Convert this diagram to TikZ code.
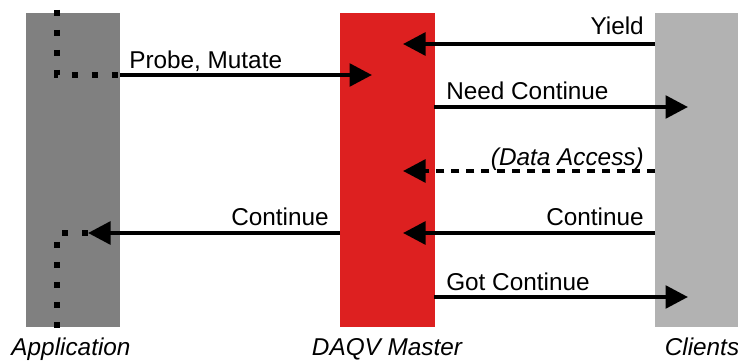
\documentclass[tikz,border=0pt]{standalone}
\usepackage{fontspec}
\setmainfont{Liberation Sans}
\usetikzlibrary{arrows.meta,positioning}
\definecolor{appgray}{RGB}{128,128,128}
\definecolor{daqvred}{RGB}{221,32,32}
\definecolor{clientgray}{RGB}{178,178,178}

\begin{document}
\begin{tikzpicture}[x=0.025cm, y=-0.025cm,
  lane/.style={draw=none, inner sep=0, anchor=north west, minimum height=314*0.025cm},
  msg/.style={line width=3pt, -{Triangle[length=16pt,width=16pt]}},
  dashmsg/.style={msg, dash pattern=on 5.7pt off 5pt},
  life/.style={line width=4pt, dash pattern=on 4.6pt off 9.6pt},
  lbl/.style={font=\fontsize{17.3}{20}\selectfont, inner sep=0},
  lanename/.style={lbl, font=\fontsize{17.3}{20}\selectfont\itshape, anchor=base}]
\useasboundingbox (0,0) rectangle (738,361);

% Lanes
\node[lane, fill=appgray, minimum width=94*0.025cm] (app) at (26,13) {};
\node[lane, fill=daqvred, minimum width=95*0.025cm] (daqv) at (340,13) {};
\node[lane, fill=clientgray, minimum width=83*0.025cm] (clients) at (655,13) {};

% Lane names
\node[lanename] (appname) at (71,355) {Application};
\node[lanename] (daqvname) at (387,355) {DAQV Master};
\node[lanename] (clientsname) at (702,355) {Clients};

% Application thread
\coordinate (appTop) at (57,10);
\coordinate (appBend) at (57,75);
\coordinate (probeS) at (120,75); \coordinate (probeE) at (372,75);
\draw[life] (appTop) -- (appBend) -- (probeS);
\draw[msg] (probeS) -- (probeE);
\node[lbl, anchor=base west] (probe) at (129,69) {Probe, Mutate};

% Clients -> Master
\coordinate (yieldS) at (655,44); \coordinate (yieldE) at (403,44);
\draw[msg] (yieldS) -- (yieldE);
\node[lbl, anchor=base east] (yield) at (644,35) {Yield};

% Master -> Clients
\coordinate (needS) at (434,107); \coordinate (needE) at (688,107);
\draw[msg] (needS) -- (needE);
\node[lbl, anchor=base west] (need) at (446,100) {Need Continue};

% Data access (dashed)
\coordinate (dataS) at (655,171); \coordinate (dataE) at (403,171);
\draw[dashmsg] (dataS) -- (dataE);
\node[lbl, anchor=base east, font=\fontsize{17.3}{20}\selectfont\itshape] (data) at (644,165) {(Data Access)};

% Continue from clients
\coordinate (contCS) at (655,233); \coordinate (contCE) at (403,233);
\draw[msg] (contCS) -- (contCE);
\node[lbl, anchor=base east] (contc) at (644,225) {Continue};

% Continue to application
\coordinate (contAS) at (340,233); \coordinate (contAE) at (88,233);
\coordinate (appBend2) at (57,233); \coordinate (appBot) at (57,330);
\draw[msg] (contAS) -- (contAE);
\draw[life] (contAE) -- (appBend2) -- (appBot);
\node[lbl, anchor=base east] (conta) at (329,226) {Continue};

% Got continue
\coordinate (gotS) at (434,297); \coordinate (gotE) at (688,297);
\draw[msg] (gotS) -- (gotE);
\node[lbl, anchor=base west] (got) at (446,290) {Got Continue};

\end{tikzpicture}
\end{document}
